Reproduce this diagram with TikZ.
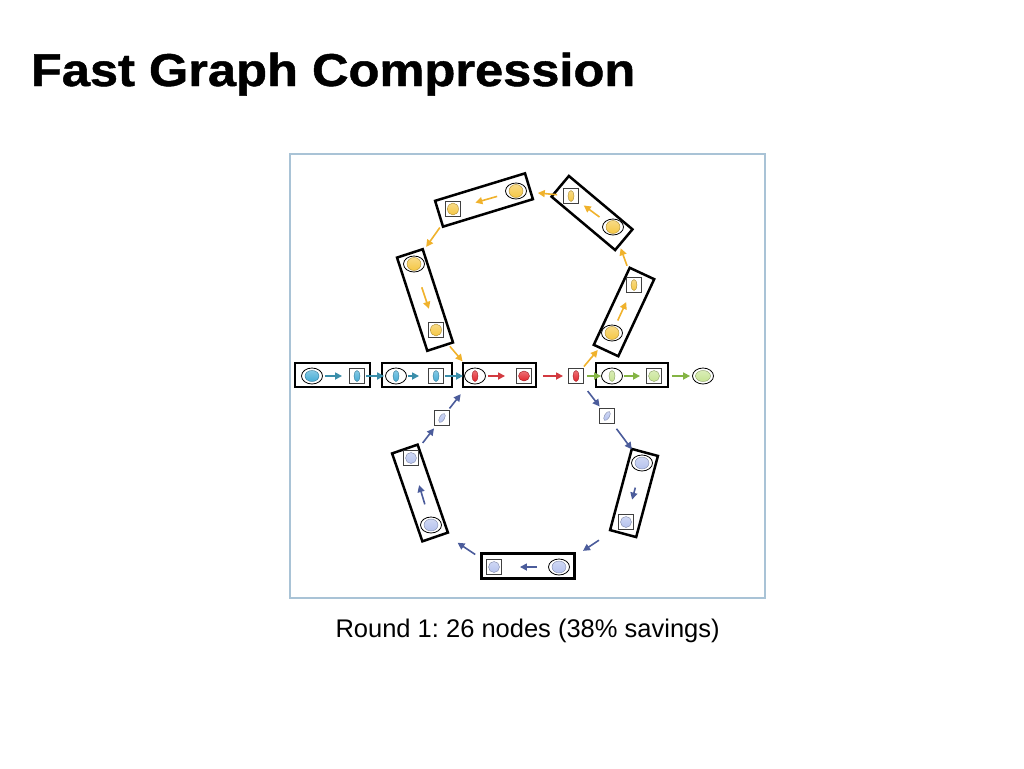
\documentclass[tikz,border=0pt]{standalone}
\usepackage{fontspec}
\setmainfont{Liberation Sans}
\usetikzlibrary{arrows.meta,shapes.geometric}

\definecolor{cyanF}{HTML}{45ACD6}
\definecolor{cyanL}{HTML}{3A8EAA}
\definecolor{redF}{HTML}{E2242B}
\definecolor{redL}{HTML}{D23A40}
\definecolor{grnF}{HTML}{C6E392}
\definecolor{grnL}{HTML}{84B444}
\definecolor{yelF}{HTML}{F5C744}
\definecolor{yelL}{HTML}{F0B22C}
\definecolor{bluF}{HTML}{B5C2EE}
\definecolor{bluL}{HTML}{4B5C9B}
\definecolor{frameblue}{HTML}{A9C3D6}

\begin{document}
\begin{tikzpicture}[x=1pt, y=-1pt,
    grp/.style={draw, line width=2.5pt, rectangle, inner sep=0},
    oval/.style={draw, ellipse, line width=0.8pt, minimum width=21pt, minimum height=16pt, inner sep=0},
    sq/.style={draw=black!75, line width=0.9pt, rectangle, minimum size=15pt, inner sep=0},
    glyph/.style={ellipse, inner sep=0, draw=#1!70!black, line width=0.4pt, top color=#1!65!white, bottom color=#1},
    arr/.style={-{Triangle[length=7pt, width=7pt]}, line width=1.6pt}]
\useasboundingbox (0,0) rectangle (1024,768);

% 1. 标题, 外框和说明
\node[anchor=base west, xscale=1.1, font=\fontsize{46}{54}\selectfont\bfseries\addfontfeature{FakeBold=1}] (title) at (27,86) {Fast Graph Compression};
\draw[frameblue, line width=1.2pt] (290,154) rectangle (765,598);
\node[anchor=base west, font=\fontsize{25.5}{30}\selectfont] (caption) at (332,637) {\frenchspacing Round 1: 26 nodes (38\% savings)};

% 2. 分组的框
\foreach \n/\x/\y/\w/\h/\a in
    {b1/332.5/375/75/24/0, b2/417/375/70/24/0, b3/499.5/375/73/24/0, b4/632/375/72/24/0,
     tl/484/200/94/27/17, tr/592/213/83/27/-40, rm/624/312/85/27/65, lb/425/300/98/27/-72,
     ll/420/493/93/27/-71, rl/634/493/84/27/75, bb/528/566/93/25/0}
    {\node[grp, minimum width=\w pt, minimum height=\h pt, rotate=\a] (\n) at (\x,\y) {};
    }

% 3. 椭圆
\foreach \n/\x/\y/\c/\gw/\gh in
    {o1/312/376/cyanF/14/11, o2/396/376/cyanF/6/11, o3/475/376/redF/6/11,
     o4/612/376/grnF/6/11, o5/703/376/grnF/15/11,
     tlo/516/191/yelF/14/13, tro/613/227/yelF/14/13, rmo/612/333/yelF/14/13, lbo/414/264/yelF/14/13,
     llo/431/525/bluF/14/12, rlo/642/463/bluF/14/12, bbo/559/567/bluF/14/12}
    {\node[oval] (\n) at (\x,\y) {};
     \node[glyph=\c, minimum width=\gw pt, minimum height=\gh pt] (\n i) at (\n) {};
    }

% 4. 方块
\foreach \n/\x/\y/\c/\gw/\gh/\r in
    {s1/357/376/cyanF/6/11/0, s2/436/376/cyanF/6/11/0, s3/524/376/redF/11/10/0,
     s4/576/376/redF/6/11/0, s5/654/376/grnF/11/11/0,
     tls/453/209/yelF/11/12/0, trs/571/196/yelF/6/11/0, rms/634/285/yelF/6/11/0, lbs/436/330/yelF/11/12/0,
     fl/442/418/bluF/5/10/-30, fr/607/416/bluF/5/10/-30,
     lls/411/458/bluF/11/11/0, rls/626/522/bluF/11/11/0, bbs/494/567/bluF/11/11/0}
    {\node[sq] (\n) at (\x,\y) {};
     \node[glyph=\c, minimum width=\gw pt, minimum height=\gh pt, rotate=\r] (\n i) at (\n) {};
    }

% 5. 箭头
\foreach \a/\b/\c/\p/\q in
    {o1/s1/cyanL/2/7, s1/o2/cyanL/1/1, o2/s2/cyanL/1/9, s2/o3/cyanL/1/1,
     o3/s3/redL/2/11, s3/s4/redL/11/5,
     s4/o4/grnL/3/0, o4/s5/grnL/1/6, s5/o5/grnL/10/2,
     tlo/tls/yelL/9/15, tro/trs/yelL/7/6, rmo/rms/yelL/5/10, lbo/lbs/yelL/16/14,
     trs/tlo/yelL/6/11, rms/tro/yelL/12/14, s4/rmo/yelL/2/13, tls/lbo/yelL/13/12, lbs/o3/yelL/11/10,
     llo/lls/bluL/13/20, rlo/rls/bluL/17/15, bbo/bbs/bluL/11/18,
     lls/fl/bluL/9/3, fl/o3/bluL/2/14, s4/fr/bluL/9/2, fr/rlo/bluL/6/8,
     rls/bbo/bluL/23/19, bbs/llo/bluL/13/22}
    {\draw[arr, color=\c, shorten <=\p pt, shorten >=\q pt] (\a) -- (\b);
    }
\end{tikzpicture}
\end{document}
